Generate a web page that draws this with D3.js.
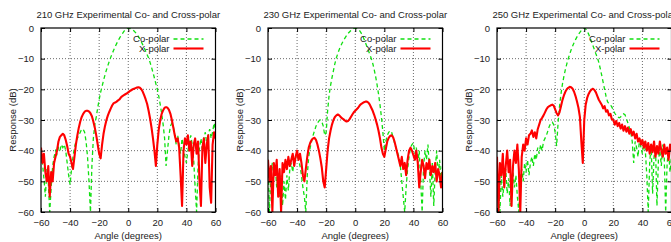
<!DOCTYPE html>
<html>
<head>
<meta charset="utf-8">
<script src="https://cdn.jsdelivr.net/npm/d3@7"></script>
<style>
  body { margin: 0; background: #fff; }
  svg { display: block; font-family: "Liberation Sans", Arial, sans-serif; }
  .grid line { stroke: #444; stroke-width: 0.8; stroke-dasharray: 1,2; }
  .ax text { font-size: 9.5px; fill: #222; }
  .ax line { stroke: #000; }
  .ax path { display: none; }
  .ttl { font-size: 9.5px; fill: #222; }
  .lbl { font-size: 9.5px; fill: #222; }
  .leg { font-size: 9.5px; fill: #222; }
</style>
</head>
<body>
<svg id="chart" width="671" height="242"></svg>
<script>
/* three gnuplot-style beam cuts: co-polar (dashed green) vs cross-polar (red),
   measured at 210 / 230 / 250 GHz. values read off the plot at 1 degree steps */
const angles = d3.range(-60, 61);
const xTicks = [-60, -40, -20, 0, 20, 40, 60];
const yTicks = [0, -10, -20, -30, -40, -50, -60];
const titles = ['210 GHz Experimental Co- and Cross-polar',
                '230 GHz Experimental Co- and Cross-polar',
                '250 GHz Experimental Co- and Cross-polar'];
const seriesNames = ['Co-polar', 'X-polar'];

const co210 = [-41,-44,-49,-55,-46,-50,-60,-52,-45,-42,-40,-41,-39,-40,-38,-39,-38,-40,-44,-48,
  -51,-46,-42,-39,-37,-36,-35,-34,-33,-33,-34,-37,-42,-50,-60,-45,-36,-31.5,-29,-26,
  -23.3,-21,-19,-17.1,-15.3,-13.7,-12.2,-10.8,-9.5,-8.3,-7.2,-6.1,-5.1,-4.2,-3.3,-2.5,-1.8,-1.1,-0.6,-0.2,
  0,-0.1,-0.3,-0.6,-1,-1.5,-2.1,-2.8,-3.6,-4.5,-5.5,-6.5,-7.6,-8.7,-9.8,-11.2,-12.8,-14.5,-16.3,-18.2,
  -20,-22.3,-25,-28,-31.5,-36,-45,-40,-35,-32,-31,-32,-35,-38,-35,-38,-41,-36,-39,-42,
  -44,-40,-37,-35,-38,-43,-52,-60,-45,-39,-36,-40,-36,-34,-38,-35,-33,-36,-34,-31,-33];
const x210 = [-39,-44,-41,-47,-50,-45,-55,-47,-50,-44,-42,-40,-37,-35.5,-35,-34.5,-35,-36.5,-38.5,-41,
  -42,-44,-46,-42,-38,-35,-32.5,-30.5,-29,-28,-27.3,-27,-27,-27.2,-27.8,-28.8,-30.5,-32.5,-35,-38,
  -41,-42.5,-38,-34.5,-32,-30,-28.5,-27.3,-26.2,-25.2,-24.5,-24.3,-24,-23.6,-23.3,-22.6,-22.2,-21.9,-21.6,-21.3,
  -21,-20.6,-20.3,-20,-19.8,-19.6,-19.4,-19.3,-19.5,-20,-20.8,-22,-23.3,-24.8,-27,-29.5,-32.5,-36,-40,-45,
  -38,-33,-30,-28,-26.8,-26,-25.8,-26,-26.7,-28,-30,-32.5,-35,-37,-36,-39,-48,-58,-40,-36,
  -38,-35,-40,-37,-45,-38,-36,-41,-37,-50,-58,-39,-36,-44,-38,-35,-52,-57,-38,-34,-36];

const co230 = [-43,-60,-47,-44,-49,-45,-52,-47,-55,-48,-58,-50,-56,-48,-53,-46,-44,-47,-43,-42,
  -41,-43,-45,-48,-52,-55,-60,-48,-42,-39,-37,-35,-33.5,-32,-31,-30.3,-30,-30.5,-32,-35,
  -34,-27,-22,-18.8,-16.2,-13.9,-11.6,-9.8,-8.3,-7,-5.9,-4.9,-4,-3.2,-2.5,-1.8,-1.3,-0.8,-0.4,-0.1,
  0,-0.1,-0.4,-0.9,-1.6,-2.5,-3.6,-4.8,-6,-7.3,-8.6,-9.9,-11.5,-13.5,-15.8,-18.5,-21.5,-25,-29,-34,
  -40,-37,-35,-34,-33.5,-34,-35.5,-37.5,-39,-40.5,-42,-45,-50,-55,-60,-52,-46,-42,-39,-38,
  -37.5,-41,-39,-44,-40,-50,-60,-45,-40,-43,-38,-46,-55,-44,-58,-46,-40,-48,-43,-50,-45];
const x230 = [-43,-50,-45,-60,-44,-48,-43,-55,-46,-60,-44,-47,-43,-46,-42,-45,-43,-41,-45,-42,
  -40,-43,-41,-44,-48,-50,-46,-42,-39,-37.5,-36.5,-36,-35.8,-36.5,-38,-40,-42.5,-45.5,-50,-52,
  -46,-40,-36,-33.5,-31.5,-30,-29,-28.5,-28.2,-28.5,-29,-29.5,-29.8,-30.2,-30.5,-30.3,-29.8,-29,-28.2,-27.5,
  -27,-26.5,-26,-25.3,-24.8,-24.5,-24.2,-24,-24,-24.3,-25,-26,-27,-28.3,-29.8,-31.5,-33.5,-36,-39,-41,
  -42,-39.5,-37,-35.8,-35.2,-35,-35.6,-37,-39,-41,-43,-45,-42,-46,-44,-48,-43,-40,-39,-40,
  -41.5,-43,-40,-44,-52,-47,-43,-45,-49,-44,-46,-43,-48,-45,-47,-44,-50,-46,-48,-52,-47];

const co250 = [-46,-52,-60,-48,-55,-50,-46,-54,-49,-58,-50,-47,-52,-48,-55,-60,-49,-46,-50,-44,
  -47,-43,-48,-44,-42,-45,-41,-43,-39,-41,-38,-40,-37,-36,-35,-33.5,-32,-31,-30.7,-31.5,
  -34,-38.5,-31,-25.5,-21.5,-18.3,-15.8,-13.6,-11.7,-10,-8.5,-7.1,-5.9,-4.8,-3.8,-2.9,-2.1,-1.4,-0.8,-0.3,
  0,-0.3,-1,-2,-3.2,-4.5,-5.8,-7.1,-8.4,-9.6,-11.2,-13.2,-15.4,-17.7,-20,-22.3,-24,-24.7,-25,-25.8,
  -26.8,-27.8,-28.5,-29,-29.3,-29,-28.3,-28,-28.3,-29.5,-31,-32.5,-34,-37,-44,-37,-39,-42,-36,-39,
  -41,-37,-40,-48,-60,-44,-38,-54,-42,-39,-58,-43,-40,-45,-38,-42,-60,-44,-40,-47,-42];
const x250 = [-42,-60,-44,-48,-41,-52,-45,-40,-47,-43,-58,-45,-40,-44,-38,-46,-60,-42,-38,-40,
  -36,-38,-35,-34.5,-33.4,-35.5,-34,-36,-33,-31.5,-30,-29.3,-28.5,-27.5,-26.5,-25.8,-25.5,-25.2,-25,-25.3,
  -26.5,-27.8,-28.5,-27.5,-25.5,-23.5,-22,-20.8,-20,-19.5,-19.2,-19.3,-19.8,-20.8,-22.2,-24,-26,-29,-37,-44,
  -30,-25,-22.8,-21.5,-20.6,-20.1,-19.8,-20.2,-21,-22.2,-23.4,-24.2,-25,-26.2,-25.5,-27.3,-26.8,-28.5,-28,-29.8,
  -30,-31.5,-30.3,-32,-31,-32.8,-31.5,-33.5,-32,-33.8,-32.5,-34.5,-33,-35,-33.8,-36,-34.5,-37,-36,-38,
  -36.5,-39,-37,-40,-37.5,-41,-38,-40.5,-37,-42,-38.5,-41,-37,-40,-42,-38,-41,-39,-43,-38,-40];

const panels = [
  { title: titles[0], co: co210, xp: x210, left: 41 },
  { title: titles[1], co: co230, xp: x230, left: 268 },
  { title: titles[2], co: co250, xp: x250, left: 497 },
];
const PW = 174.5, TOP = 28, BOT = 212;
const GREEN = '#10e010', RED = '#ff0000';

const svg = d3.select('#chart');

panels.forEach((p, i) => {
  const x = d3.scaleLinear().domain([-60, 60]).range([p.left, p.left + PW]);
  const y = d3.scaleLinear().domain([-60, 0]).range([BOT, TOP]);
  const g = svg.append('g');

  g.append('text').attr('class', 'ttl').attr('x', p.left + PW / 2).attr('y', 17.5)
    .attr('text-anchor', 'middle').text(p.title);

  // dotted grid on the inner ticks
  const grid = g.append('g').attr('class', 'grid');
  grid.selectAll('.gx').data(xTicks.slice(1, -1)).join('line')
    .attr('x1', d => x(d)).attr('x2', d => x(d)).attr('y1', TOP).attr('y2', BOT);
  grid.selectAll('.gy').data(yTicks.slice(1, -1)).join('line')
    .attr('y1', d => y(d)).attr('y2', d => y(d)).attr('x1', p.left).attr('x2', p.left + PW);

  // curves, clipped to the frame
  const cid = 'clip' + i;
  g.append('clipPath').attr('id', cid).append('rect')
    .attr('x', p.left).attr('y', TOP).attr('width', PW).attr('height', BOT - TOP);
  const line = vals => d3.line().x((d, k) => x(angles[k])).y(d => y(d))(vals);
  const cg = g.append('g').attr('clip-path', `url(#${cid})`);
  cg.append('path').attr('d', line(p.co)).attr('fill', 'none')
    .attr('stroke', GREEN).attr('stroke-width', 1.3).attr('stroke-dasharray', '4,3');
  cg.append('path').attr('d', line(p.xp)).attr('fill', 'none')
    .attr('stroke', RED).attr('stroke-width', 2.1).attr('stroke-linejoin', 'round');

  // inward ticks on all four sides (gnuplot mirror)
  g.append('g').attr('class', 'ax').attr('transform', `translate(0,${BOT})`)
    .call(d3.axisBottom(x).tickValues(xTicks).tickSize(-4).tickPadding(7));
  g.append('g').attr('class', 'ax').attr('transform', `translate(0,${TOP})`)
    .call(d3.axisTop(x).tickValues(xTicks).tickSize(-4).tickFormat(''));
  g.append('g').attr('class', 'ax').attr('transform', `translate(${p.left},0)`)
    .call(d3.axisLeft(y).tickValues(yTicks).tickSize(-4).tickPadding(7));
  g.append('g').attr('class', 'ax').attr('transform', `translate(${p.left + PW},0)`)
    .call(d3.axisRight(y).tickValues(yTicks).tickSize(-4).tickFormat(''));

  g.append('rect').attr('x', p.left).attr('y', TOP).attr('width', PW).attr('height', BOT - TOP)
    .attr('fill', 'none').attr('stroke', '#000').attr('stroke-width', 1.2);

  g.append('text').attr('class', 'lbl').attr('x', p.left + PW / 2).attr('y', 239)
    .attr('text-anchor', 'middle').text('Angle (degrees)');
  g.append('text').attr('class', 'lbl')
    .attr('transform', `translate(${p.left - 25},${(TOP + BOT) / 2}) rotate(-90)`)
    .attr('text-anchor', 'middle').text('Response (dB)');

  // key, top right inside the frame
  const R = p.left + PW;
  [[GREEN, '4,3', 1.3], [RED, null, 2.1]].forEach((s, k) => {
    const ly = 39 + k * 9.5;
    g.append('text').attr('class', 'leg').attr('x', R - 46).attr('y', ly + 3.3)
      .attr('text-anchor', 'end').text(seriesNames[k]);
    g.append('line').attr('x1', R - 42).attr('x2', R - 12).attr('y1', ly).attr('y2', ly)
      .attr('stroke', s[0]).attr('stroke-width', s[2]).attr('stroke-dasharray', s[1]);
  });
});
</script>
</body>
</html>
